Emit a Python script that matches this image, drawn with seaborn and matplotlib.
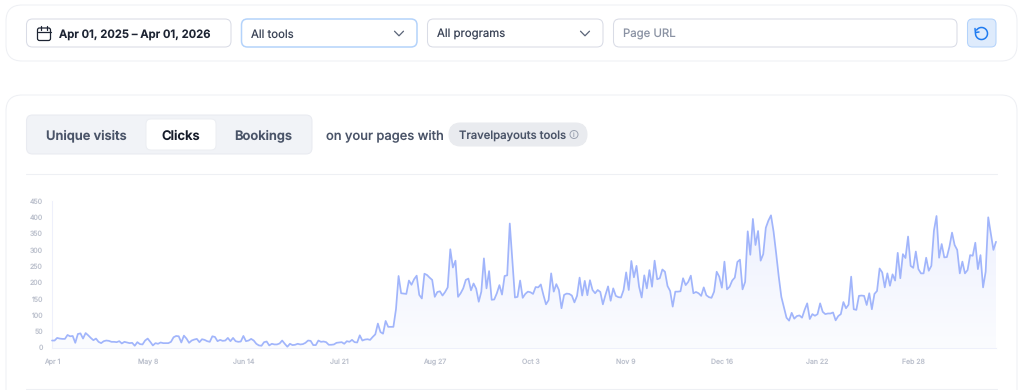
import numpy as np
import pandas as pd
import matplotlib
matplotlib.use('Agg')
import matplotlib.pyplot as plt
import seaborn as sns
from matplotlib.patches import FancyBboxPatch, Circle, Arc

# clicks per day
clicks_apr_jul = [22, 22, 30, 28, 27, 27, 39, 35, 36, 15, 42, 44, 28, 45, 38, 30, 23, 28, 18, 14, 20, 22, 21, 18,
                  18, 17, 20, 13, 18, 16, 14, 15, 6, 17, 11, 10, 22, 28, 18, 7, 14, 12, 16, 14, 14, 14, 18, 32,
                  36, 35, 16, 37, 28, 15, 22, 25, 27, 17, 26, 24, 20, 18, 35, 33, 20, 24, 21, 22, 30, 20, 30, 20,
                  18, 19, 36, 20, 22, 27, 22, 12, 7, 6, 17, 19, 7, 12, 10, 10, 13, 22, 12, 3, 12, 8, 9, 12, 10,
                  11, 15, 22, 21, 8, 8, 22, 18, 19, 17, 9, 9, 10, 15, 16, 17, 12, 20]
clicks_jul_dec = [18, 24, 17, 16, 38, 22, 25, 26, 24, 33, 41, 74, 48, 43, 82, 64, 64, 64, 118, 220, 167, 166, 165,
                  206, 193, 210, 221, 162, 151, 227, 223, 215, 208, 156, 171, 173, 160, 171, 185, 302, 246, 267,
                  156, 167, 182, 208, 212, 176, 197, 181, 141, 172, 274, 182, 235, 147, 148, 167, 192, 163, 220,
                  222, 381, 269, 154, 156, 206, 153, 165, 172, 170, 165, 186, 185, 194, 162, 133, 146, 228, 172,
                  195, 177, 121, 162, 166, 165, 160, 139, 159, 215, 160, 205, 161, 207, 177, 167, 177, 171, 133,
                  162, 188, 144, 182, 159, 155, 154, 177, 231, 177, 266, 216, 251, 187, 154, 222, 182, 238, 187,
                  267, 210, 213, 240, 233, 189, 174, 126, 172, 172, 173]
clicks_dec_apr = [213, 192, 202, 221, 167, 171, 167, 159, 185, 161, 155, 153, 172, 233, 218, 184, 264, 179, 187,
                  206, 215, 263, 270, 179, 202, 357, 285, 395, 315, 358, 267, 287, 368, 390, 406, 356, 289, 218,
                  156, 124, 92, 83, 107, 89, 97, 99, 92, 116, 136, 88, 103, 98, 103, 136, 110, 103, 105, 105, 108,
                  84, 97, 103, 140, 121, 132, 218, 118, 116, 159, 160, 159, 131, 167, 118, 165, 174, 243, 231, 185,
                  228, 190, 225, 206, 291, 213, 287, 275, 341, 251, 245, 295, 241, 228, 228, 276, 236, 251, 359,
                  404, 276, 318, 277, 278, 310, 353, 315, 300, 228, 264, 228, 238, 284, 282, 322, 241, 284, 185,
                  233, 400, 351, 300, 325]

tick_dates = ['2025-04-01', '2025-05-08', '2025-06-14', '2025-07-21', '2025-08-27', '2025-10-03',
              '2025-11-09', '2025-12-16', '2026-01-22', '2026-02-28']
tick_labels = ['Apr 1', 'May 8', 'Jun 14', 'Jul 21', 'Aug 27', 'Oct 3', 'Nov 9', 'Dec 16', 'Jan 22', 'Feb 28']
y_ticks = [0, 50, 100, 150, 200, 250, 300, 350, 400, 450]

clicks = clicks_apr_jul + clicks_jul_dec + clicks_dec_apr
dates = pd.date_range('2025-04-01', periods=len(clicks))
df = pd.DataFrame({'date': dates, 'clicks': clicks})

sns.set_theme(style='white')
plt.rcParams['font.family'] = ['Inter', 'DejaVu Sans']
plt.rcParams['text.hinting'] = 'none'
plt.rcParams['text.hinting_factor'] = 1

W, H = 1024, 390
fig = plt.figure(figsize=(W / 100, H / 100), dpi=100, facecolor='white')

# page furniture in pixel coordinates
ui = fig.add_axes([0, 0, 1, 1])
ui.set_xlim(0, W)
ui.set_ylim(H, 0)
ui.axis('off')


def box(x0, y0, x1, y1, r=6, fc='white', ec='#e3e6ee', lw=0.75, z=1):
    ui.add_patch(FancyBboxPatch((x0 + r, y0 + r), x1 - x0 - 2 * r, y1 - y0 - 2 * r,
                                boxstyle=f'round,pad={r},rounding_size={r}',
                                fc=fc, ec=ec, lw=lw, zorder=z))


def chevron(cx, cy):
    ui.plot([cx - 4.5, cx, cx + 4.5], [cy - 2.3, cy + 2.3, cy - 2.3], color='#5a6478', lw=0.9, zorder=4)


# panels
box(6, 5, 1017, 61, r=16, ec='#eef0f4')
box(6, 95, 1017, 420, r=16, ec='#eef0f4')

# filter row
box(26.5, 19, 231, 47, r=6, ec='#d9dce6')
box(241.5, 19, 417, 47, r=6, ec='#b4d3fb', lw=1.1)
box(427.5, 19, 603, 47, r=6, ec='#d9dce6')
box(613.5, 19, 957, 47, r=6, ec='#d9dce6')
box(967.5, 19, 996, 47, r=5, fc='#deebfc', ec='#b4d3fb')

box(37.5, 28, 50.5, 40.5, r=2, ec='#1d2433', lw=0.9, z=3)
ui.plot([37.5, 50.5], [31.5, 31.5], color='#1d2433', lw=0.9, zorder=4)
ui.plot([41, 41], [26, 29.5], color='#1d2433', lw=0.9, zorder=4)
ui.plot([47, 47], [26, 29.5], color='#1d2433', lw=0.9, zorder=4)

ui.text(59, 37.5, 'Apr 01, 2025 – Apr 01, 2026', fontsize=8.15, fontweight='semibold', color='#1d2433')
ui.text(251, 37.5, 'All tools', fontsize=8.2, color='#3a4356')
ui.text(437, 37.5, 'All programs', fontsize=8.2, color='#3a4356')
ui.text(623, 37.5, 'Page URL', fontsize=8.2, color='#8a92a3')
chevron(399, 33.5)
chevron(585, 33.5)

# reset icon
ui.add_patch(Arc((981.5, 33.5), 12, 12, theta1=-150, theta2=190, color='#1f7bf0', lw=1.1, zorder=4))
ui.plot([975, 975.4, 979], [28.5, 32.5, 32], color='#1f7bf0', lw=1.1, zorder=4)

# tabs
box(26.5, 115, 312, 154, r=6, fc='#f1f3f7', ec='#e9ebf1')
box(146, 119, 216, 150, r=5, fc='white', ec='#eceef3')
ui.text(86.5, 139.5, 'Unique visits', fontsize=9.3, fontweight='semibold', color='#4a5468', ha='center')
ui.text(181, 139.5, 'Clicks', fontsize=9.4, fontweight='semibold', color='#161c2a', ha='center')
ui.text(263.5, 139.5, 'Bookings', fontsize=9.3, fontweight='semibold', color='#4a5468', ha='center')
ui.text(326, 139.5, 'on your pages with', fontsize=9.3, fontweight='medium', color='#4a5468')
box(449, 123, 587, 146, r=11.5, fc='#e9ebef', ec='#e9ebef')
ui.text(459, 138.5, 'Travelpayouts tools', fontsize=8.15, fontweight='medium', color='#4a5468')
ui.add_patch(Circle((574, 134.5), 4, fc='none', ec='#9aa1b0', lw=0.7, zorder=4))
ui.text(574, 134.7, 'i', fontsize=4.8, color='#9aa1b0', ha='center', va='center', zorder=4)

# separators
ui.plot([26, 997], [174, 174], color='#eef0f4', lw=0.8)
ui.plot([26, 997], [388.5, 388.5], color='#eef0f4', lw=0.8)

# chart
left, right, top, bottom = 52, 996, 201, 347.7
ax = fig.add_axes([left / W, 1 - bottom / H, (right - left) / W, (bottom - top) / H])
ax.patch.set_alpha(0)
ax.set_xlim(dates[0], dates[-1])
ax.set_ylim(0, 450)

sns.lineplot(data=df, x='date', y='clicks', ax=ax, color='#a1b5fb', lw=1.25, clip_on=False, zorder=3)

# area under the line, fading downwards
area = ax.fill_between(df['date'], df['clicks'], 0, color='none', lw=0)
gradient = np.linspace(0, 1, 256).reshape(-1, 1)
cmap = matplotlib.colors.LinearSegmentedColormap.from_list('fade', ['#eef1fe', '#fbfcff'])
img = ax.imshow(gradient, cmap=cmap, aspect='auto', origin='upper', zorder=1,
                extent=[ax.get_xlim()[0], ax.get_xlim()[1], 0, 410])
img.set_clip_path(area.get_paths()[0], transform=ax.transData)
ax.set_xlim(dates[0], dates[-1])
ax.set_ylim(0, 450)

ax.set_xticks(pd.to_datetime(tick_dates))
ax.set_xticklabels(tick_labels)
ax.set_yticks(y_ticks)
ax.set_xlabel('')
ax.set_ylabel('')
ax.tick_params(axis='both', length=0, labelsize=5.0, labelcolor='#bcc1cd')
ax.tick_params(axis='x', pad=7.5)
ax.tick_params(axis='y', pad=6.5)
ax.grid(False)
sns.despine(ax=ax)
for side in ['left', 'bottom']:
    ax.spines[side].set_color('#eef0fb')
    ax.spines[side].set_linewidth(0.8)

fig.savefig('out.png', dpi=100)
